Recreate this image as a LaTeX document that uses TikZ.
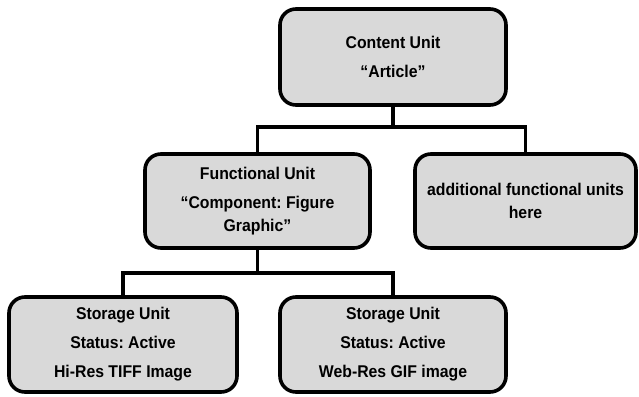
\documentclass[tikz,border=0pt]{standalone}
\usepackage{fontspec}
\setmainfont{Liberation Sans}[FakeStretch=0.93]
\usetikzlibrary{positioning,backgrounds}
\definecolor{boxfill}{HTML}{D9D9D9}
\tikzset{
  unitbox/.style={draw=black, line width=3.6pt, fill=boxfill, rounded corners=16pt,
    align=center, inner sep=0pt, font=\fontsize{17}{23}\selectfont\bfseries\frenchspacing},
  conn/.style={draw=black, line width=3.6pt, line join=miter},
}
\begin{document}
\begin{tikzpicture}[x=1pt,y=-1pt]
\useasboundingbox (0,0) rectangle (639,396);
\node[unitbox, minimum width=226pt, minimum height=96pt] (top) at (393,57)
  {Content Unit\\[6pt]\textquotedblleft Article\textquotedblright};
\node[unitbox, minimum width=225pt, minimum height=94pt] (func) at (257.5,201)
  {Functional Unit\\[6pt]\textquotedblleft Component: Figure\\Graphic\textquotedblright};
\node[unitbox, minimum width=221pt, minimum height=94pt] (add) at (525.5,201)
  {additional functional units\\here};
\node[unitbox, minimum width=228pt, minimum height=95pt] (st1) at (123,344.5)
  {Storage Unit\\[6pt]Status: Active\\[6pt]Hi-Res TIFF Image};
\node[unitbox, minimum width=226pt, minimum height=95pt] (st2) at (393,344.5)
  {Storage Unit\\[6pt]Status: Active\\[6pt]Web-Res GIF image};
\coordinate (j1) at (393,127);
\coordinate (j2) at (257.5,273);
\begin{scope}[on background layer]
\draw[conn] (top.south) -- (j1);
\draw[conn] (func.north) |- (j1) -| (add.north);
\draw[conn] (func.south) -- (j2);
\draw[conn] (st1.north) |- (j2) -| (st2.north);
\end{scope}
\end{tikzpicture}
\end{document}
